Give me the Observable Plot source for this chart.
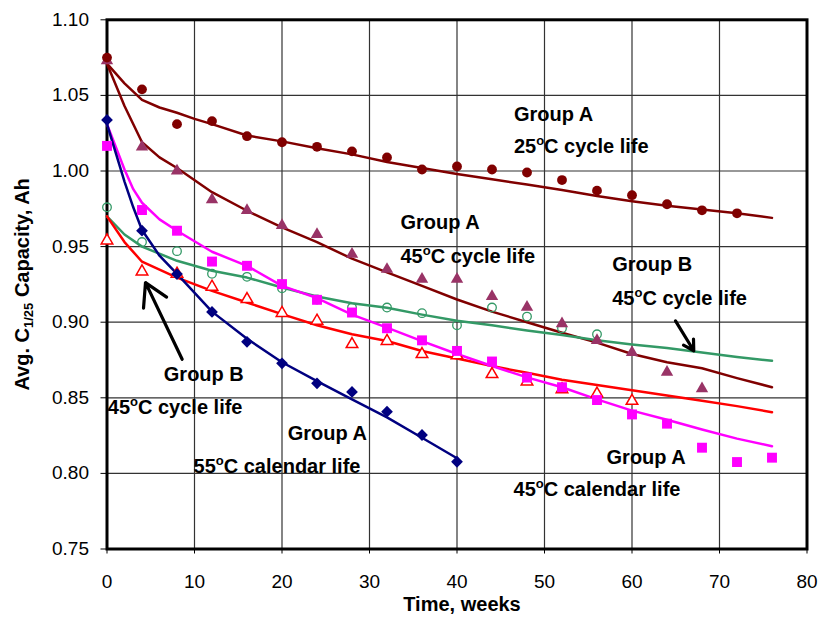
<!DOCTYPE html>
<html><head><meta charset="utf-8">
<script src="https://cdn.jsdelivr.net/npm/d3@7"></script>
<script src="https://cdn.jsdelivr.net/npm/@observablehq/plot@0.6"></script>
<style>body{margin:0;background:#fff}</style>
</head><body><div id="chart"></div>
<script>
// ---- tick labels ----
const xTicks = [0,10,20,30,40,50,60,70,80];
const yTicks = [0.75,0.80,0.85,0.90,0.95,1.00,1.05,1.10];

// ---- measured points ----
const weeksA25 = [0,4,8,12,16,20,24,28,32,36,40,44,48,52,56,60,64,68,72];
const capA25 = [1.075,1.054,1.031,1.033,1.023,1.019,1.016,1.013,1.009,1.001,1.003,1.001,0.999,0.994,0.987,0.984,0.978,0.974,0.972];

const weeksA45cyc = [0,4,8,12,16,20,24,28,32,36,40,44,48,52,56,60,64,68];
const capA45cyc = [1.073,1.016,1.000,0.981,0.974,0.964,0.958,0.945,0.935,0.9285,0.9285,0.917,0.910,0.899,0.888,0.880,0.867,0.856];

const weeksB45cyc = [0,4,8,12,16,20,24,28,32,36,40,44,48,52,56];
const capB45cyc = [0.976,0.953,0.947,0.932,0.930,0.9225,0.915,0.9097,0.9097,0.906,0.898,0.9097,0.9037,0.896,0.892];

const weeksB45b = [0,4,8,12,16,20,24,28,32,36,40,44,48,52,56,60];
const capB45b = [0.954,0.9335,0.932,0.9234,0.9152,0.906,0.9009,0.8854,0.8875,0.8788,0.878,0.8656,0.8607,0.8556,0.8527,0.8479];

const weeksA45cal = [0,4,8,12,16,20,24,28,32,36,40,44,48,52,56,60,64,68,72,76];
const capA45cal = [1.0166,0.9742,0.9605,0.9401,0.9373,0.9252,0.9148,0.9064,0.896,0.888,0.881,0.874,0.8634,0.857,0.8485,0.839,0.8329,0.817,0.8075,0.8104];

const weeksA55cal = [0,4,8,12,16,20,24,28,32,36,40];
const capA55cal = [1.0338,0.9605,0.9318,0.9068,0.887,0.8728,0.8596,0.8539,0.8408,0.8254,0.8077];

// ---- fitted curves ----
const fitWeeksA25 = [0,2,4,6,8,10,12,16,20,24,28,32,36,40,44,48,52,56,60,64,68,72,76];
const fitA25 = [1.071,1.058,1.047,1.042,1.0385,1.0345,1.031,1.0235,1.0196,1.015,1.011,1.006,1.002,0.998,0.9945,0.991,0.9875,0.9835,0.980,0.977,0.9745,0.972,0.969];

const fitWeeksA45cyc = [0,2,4,6,8,12,16,20,24,28,32,36,40,44,48,52,56,60,64,68,72,76];
const fitA45cyc = [1.071,1.043,1.019,1.009,1.002,0.986,0.9737,0.9627,0.953,0.942,0.933,0.924,0.915,0.907,0.900,0.893,0.8865,0.879,0.8735,0.8695,0.863,0.857];

const fitWeeksB45cyc = [0,2,4,8,12,16,20,24,28,32,36,40,44,48,52,56,60,64,68,72,76];
const fitB45cyc = [0.970,0.958,0.950,0.9406,0.934,0.9295,0.923,0.917,0.9125,0.9095,0.905,0.901,0.898,0.8945,0.8915,0.888,0.8853,0.883,0.880,0.877,0.8745];

const fitWeeksB45b = [0,2,4,8,12,16,20,24,28,32,36,40,44,48,52,56,60,64,68,72,76];
const fitB45b = [0.970,0.953,0.940,0.9295,0.9207,0.913,0.9053,0.898,0.892,0.8876,0.881,0.876,0.871,0.8665,0.862,0.8585,0.855,0.8515,0.848,0.8445,0.8405];

const fitWeeksA45cal = [0,2,3,4,6,8,12,16,20,24,28,32,36,40,44,48,52,56,60,64,68,72,76];
const fitA45cal = [1.031,1.001,0.988,0.979,0.968,0.9605,0.9466,0.9373,0.924,0.916,0.905,0.8964,0.8875,0.879,0.871,0.8635,0.857,0.849,0.8415,0.8355,0.829,0.823,0.818];

const fitWeeksA55cal = [0,2,3,4,6,8,12,16,20,24,28,32,36,40];
const fitA55cal = [1.031,0.993,0.976,0.961,0.944,0.932,0.907,0.889,0.8735,0.861,0.849,0.837,0.8236,0.810];

// ---- annotations ----
const annText = ["Group A","25°C cycle life","Group A","45°C cycle life","Group B","45°C cycle life",
                 "Group B","45°C cycle life","Group A","55°C calendar life","Group A","45°C calendar life"];
const annX = [46.5,46.5,33.54,33.54,57.74,57.74,6.49,0.09,20.66,9.89,57.09,46.46];
const annY = [1.0375,1.0159,0.966,0.9435,0.9378,0.9157,0.8654,0.8437,0.8263,0.8046,0.8106,0.7892];

const arrowX1 = [8.59,64.97];
const arrowY1 = [0.8755,0.9009];
const arrowX2 = [4.4,67.06];
const arrowY2 = [0.9262,0.8811];

const xTitle = "Time, weeks";
const yTitle = "Avg. C1/25 Capacity, Ah";

const DARKRED = "#800000", PLUM = "#993366", GREEN = "#339966", RED = "#FF0000", MAGENTA = "#FF00FF", NAVY = "#000080";

const chart = Plot.plot({
  width: 824, height: 620,
  marginLeft: 106.5, marginRight: 17.5, marginTop: 19.3, marginBottom: 71.5,
  style: {fontFamily: "'Liberation Sans', Arial, sans-serif", fontSize: "19px", background: "white", color: "black"},
  x: {domain: [0, 80]},
  y: {domain: [0.75, 1.10]},
  marks: [
    Plot.gridX(xTicks, {stroke: "#333", strokeOpacity: 1, strokeWidth: 1.2}),
    Plot.gridY(yTicks, {stroke: "#333", strokeOpacity: 1, strokeWidth: 1.2}),
    Plot.frame({stroke: "black", strokeWidth: 3}),
    Plot.axisX(xTicks, {tickSize: 5, tickPadding: 20, fontSize: 19, label: null, stroke: "black"}),
    Plot.axisY(yTicks, {tickSize: 6, tickPadding: 12, fontSize: 19, label: null, tickFormat: d => d.toFixed(2), stroke: "black"}),

    Plot.line(fitA25, {x: fitWeeksA25, y: fitA25, stroke: DARKRED, strokeWidth: 2.5}),
    Plot.line(fitA45cyc, {x: fitWeeksA45cyc, y: fitA45cyc, stroke: DARKRED, strokeWidth: 2.5}),
    Plot.line(fitB45cyc, {x: fitWeeksB45cyc, y: fitB45cyc, stroke: GREEN, strokeWidth: 2.5}),
    Plot.line(fitB45b, {x: fitWeeksB45b, y: fitB45b, stroke: RED, strokeWidth: 2.5}),
    Plot.line(fitA45cal, {x: fitWeeksA45cal, y: fitA45cal, stroke: MAGENTA, strokeWidth: 2.5}),
    Plot.line(fitA55cal, {x: fitWeeksA55cal, y: fitA55cal, stroke: NAVY, strokeWidth: 2.5}),

    Plot.dot(capB45cyc, {x: weeksB45cyc, y: capB45cyc, symbol: "circle", r: 4.3, stroke: GREEN, fill: "none", strokeWidth: 1.3}),
    Plot.dot(capB45b, {x: weeksB45b, y: capB45b, symbol: "triangle", r: 4.3, stroke: RED, fill: "white", strokeWidth: 1.5}),
    Plot.dot(capA45cal, {x: weeksA45cal, y: capA45cal, symbol: "square", r: 5.6, fill: MAGENTA, stroke: "none"}),
    Plot.dot(capA55cal, {x: weeksA55cal, y: capA55cal, symbol: "diamond2", r: 5.3, fill: NAVY, stroke: "none"}),
    Plot.dot(capA45cyc, {x: weeksA45cyc, y: capA45cyc, symbol: "triangle", r: 4.6, fill: PLUM, stroke: "none"}),
    Plot.dot(capA25, {x: weeksA25, y: capA25, symbol: "circle", r: 4.9, fill: DARKRED, stroke: "none"}),

    Plot.arrow(arrowX1, {x1: arrowX1, y1: arrowY1, x2: arrowX2, y2: arrowY2, stroke: "black", strokeWidth: 3.2, headLength: 12}),
    Plot.text(annText, {x: annX, y: annY, text: d => d, textAnchor: "start", fontWeight: "bold", fontSize: 20, fill: "black"}),

    Plot.text([xTitle], {frameAnchor: "bottom", dx: 5, dy: 62, text: d => d, fontWeight: "bold", fontSize: 20, fill: "black", textAnchor: "middle"}),
    Plot.text([yTitle], {frameAnchor: "left", dx: -84.5, rotate: -90, text: d => d, fontWeight: "bold", fontSize: 20, fill: "black", textAnchor: "middle"})
  ]
});

document.getElementById("chart").appendChild(chart);

// rich text: superscript "o" in temperatures, subscript in the y title
const NS = "http://www.w3.org/2000/svg";
function tspan(txt, attrs) {
  const t = document.createElementNS(NS, "tspan");
  for (const k in attrs) t.setAttribute(k, attrs[k]);
  t.textContent = txt;
  return t;
}
chart.querySelectorAll("text").forEach(t => {
  const s = t.textContent;
  if (t.children.length === 0 && s.includes("°")) {
    const [a, b] = s.split("°");
    t.textContent = "";
    t.append(tspan(a, {}));
    t.append(tspan("o", {"font-size": 13, dy: -8}));
    t.append(tspan(b, {"font-size": 20, dy: 8}));
  } else if (t.children.length === 0 && s === yTitle) {
    t.textContent = "";
    t.append(tspan("Avg. C", {}));
    t.append(tspan("1/25", {"font-size": 13, dy: 4}));
    t.append(tspan(" Capacity, Ah", {"font-size": 20, dy: -4}));
  }
});
</script>
</body></html>
